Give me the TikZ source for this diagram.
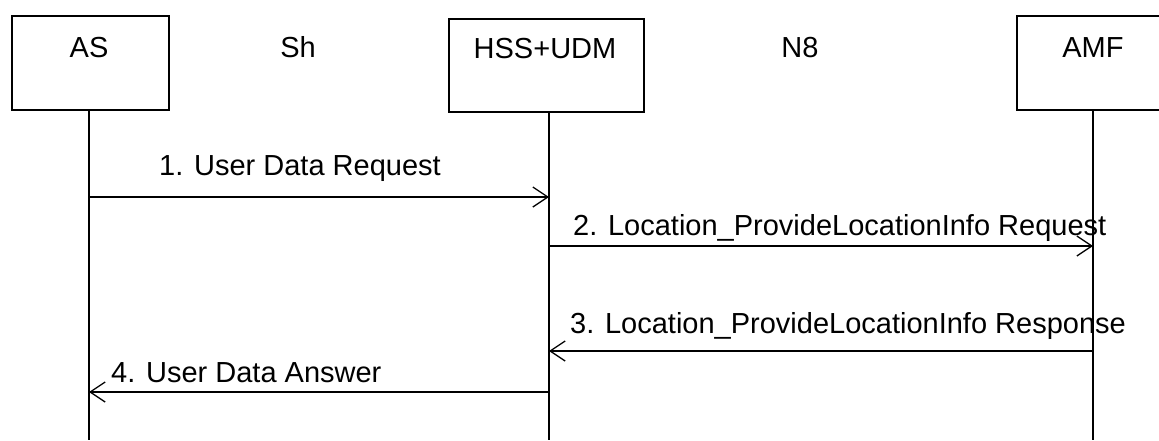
\documentclass[tikz,border=0pt]{standalone}
\usepackage{fontspec}
\setmainfont{Liberation Sans}
\usetikzlibrary{arrows.meta}
\begin{document}
\begin{tikzpicture}[x=1pt,y=-1pt,
  ent/.style={draw, line width=2pt, inner sep=0pt, anchor=north west},
  hdr/.style={font=\fontsize{29}{34}\selectfont, inner sep=0pt, anchor=base},
  lbl/.style={font=\fontsize{29}{34}\selectfont, inner sep=0pt, anchor=base west},
  life/.style={line width=1.3pt},
  msg/.style={line width=1.3pt, -{Straight Barb[length=15pt,width=20pt,line width=1.3pt]}}]
\useasboundingbox (0,0) rectangle (1159,440);
\clip (0,0) rectangle (1159,440);
% entity boxes
\node[ent, minimum width=157pt, minimum height=94pt] (as) at (11,15) {};
\node[ent, minimum width=195pt, minimum height=93pt] (hss) at (448,18) {};
\node[ent, minimum width=154pt, minimum height=94pt] (amf) at (1016,15) {};
% header texts
\node[hdr] (tas) at (89,57) {AS};
\node[hdr] (tsh) at (298,57) {Sh};
\node[hdr] (thss) at (545,58) {HSS+UDM};
\node[hdr] (tn8) at (800,57) {N8};
\node[hdr] (tamf) at (1093,57) {AMF};
% lifelines
\coordinate (asT) at (89,109);
\coordinate (asB) at (89,440);
\coordinate (hssT) at (549,111);
\coordinate (hssB) at (549,440);
\coordinate (amfT) at (1093,109);
\coordinate (amfB) at (1093,440);
\draw[life] (asT) -- (asB);
\draw[life] (hssT) -- (hssB);
\draw[life] (amfT) -- (amfB);
% message rows
\coordinate (m1) at (0,197);
\coordinate (m2) at (0,246);
\coordinate (m3) at (0,351);
\coordinate (m4) at (0,392);
\draw[msg] (asB |- m1) -- (hssB |- m1);
\draw[msg] (hssB |- m2) -- (amfB |- m2);
\draw[msg] (amfB |- m3) -- (hssB |- m3);
\draw[msg] (hssB |- m4) -- (asB |- m4);
% message labels
\node[lbl] (l1) at (159,175) {1. User Data Request};
\node[lbl] (l2) at (573,235) {2. Location\_ProvideLocationInfo Request};
\node[lbl] (l3) at (570,333) {3. Location\_ProvideLocationInfo Response};
\node[lbl] (l4) at (111,382) {4. User Data Answer};
\end{tikzpicture}
\end{document}
